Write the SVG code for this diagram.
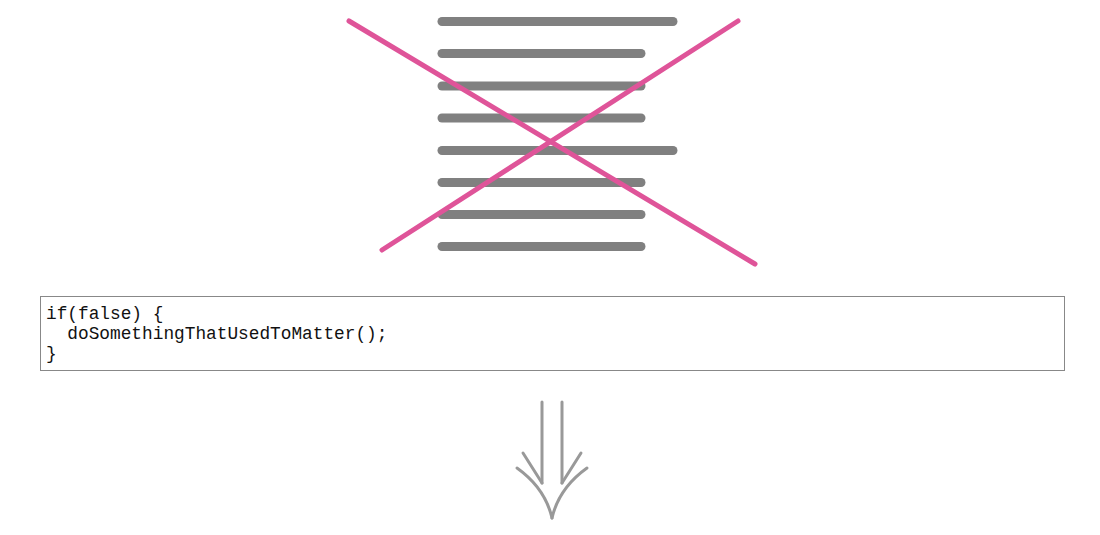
<svg xmlns="http://www.w3.org/2000/svg" width="1100" height="535" viewBox="0 0 1100 535">
<style>
.bar{stroke:#808080;stroke-width:9;stroke-linecap:round;fill:none}
.cross{stroke:#df5499;stroke-width:5;stroke-linecap:round;fill:none}
.code{font-family:"Liberation Mono",monospace;font-size:17.8px;fill:#111}
.arr{stroke:#999;stroke-width:3;fill:none;stroke-linecap:round}
</style>
<rect width="1100" height="535" fill="#fff"/>
<g id="document">
<line class="bar" x1="442" y1="21.5" x2="673" y2="21.5"/>
<line class="bar" x1="442" y1="53.5" x2="641" y2="53.5"/>
<line class="bar" x1="442" y1="86" x2="641" y2="86"/>
<line class="bar" x1="442" y1="118" x2="641" y2="118"/>
<line class="bar" x1="442" y1="150.5" x2="673" y2="150.5"/>
<line class="bar" x1="442" y1="182.5" x2="641" y2="182.5"/>
<line class="bar" x1="442" y1="214.5" x2="641" y2="214.5"/>
<line class="bar" x1="442" y1="246.5" x2="641" y2="246.5"/>
</g>
<g id="cross">
<line class="cross" x1="349" y1="21" x2="755" y2="264"/>
<line class="cross" x1="738" y1="21" x2="382" y2="250"/>
</g>
<g id="code-box">
<rect x="40.5" y="296.5" width="1024" height="74" fill="#fff" stroke="#888" stroke-width="1"/>
<text class="code" x="46" y="318.5">if(false) {</text>
<text class="code" x="46" y="338.5" xml:space="preserve">  doSomethingThatUsedToMatter();</text>
<text class="code" x="46" y="358.5">}</text>
</g>
<g id="connectors">
<line class="arr" x1="542" y1="402" x2="542" y2="483"/>
<line class="arr" x1="562" y1="402" x2="562" y2="483"/>
<line class="arr" x1="523" y1="453" x2="542" y2="483"/>
<line class="arr" x1="581" y1="453" x2="562" y2="483"/>
<path class="arr" d="M517 468 Q545 488 552 518"/>
<path class="arr" d="M587 468 Q559 488 552 518"/>
</g>
</svg>
